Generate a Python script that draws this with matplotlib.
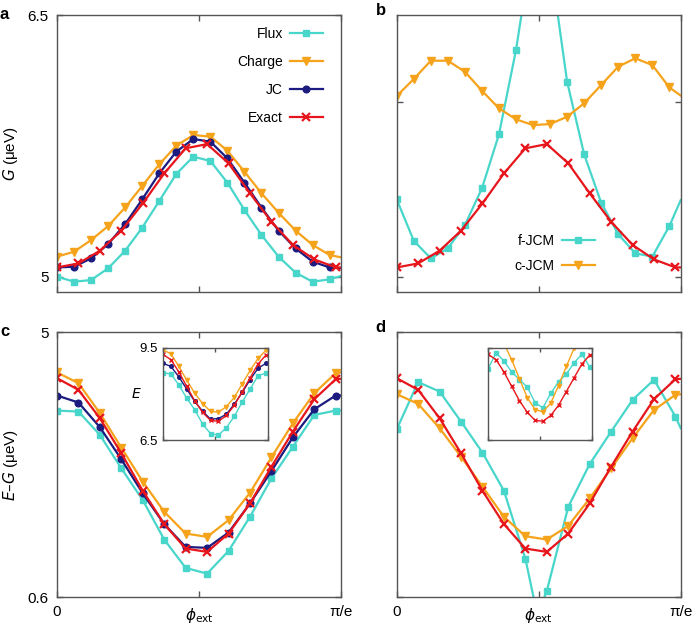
import matplotlib
matplotlib.use("Agg")
import matplotlib.pyplot as plt

plt.rcParams['font.family'] = ['Liberation Sans', 'DejaVu Sans']
plt.rcParams['mathtext.fontset'] = 'dejavusans'

## DATOS (phi_ext normalised to pi/e = 1)

# grid with 17 markers (+ end point, no marker)
phi_a = [0.00, 0.06, 0.12, 0.18, 0.24, 0.30, 0.36, 0.42, 0.48, 0.54,
         0.60, 0.66, 0.72, 0.78, 0.84, 0.90, 0.96, 1.00]
# grid with 14 markers (+ end point, no marker)
phi_b = [0.000, 0.0755, 0.151, 0.2265, 0.302, 0.3775, 0.453, 0.5285,
         0.604, 0.6795, 0.755, 0.8305, 0.906, 0.9815, 1.000]
# f-JCM in panel d has one extra unmarked point at the dip
phi_d_flux = [0.000, 0.0755, 0.151, 0.2265, 0.302, 0.3775, 0.453, 0.495, 0.5285,
              0.604, 0.6795, 0.755, 0.8305, 0.906, 0.9815, 1.000]

# panel a : ground state G
flux_G = [5.000, 4.971, 4.981, 5.048, 5.149, 5.281, 5.434, 5.589, 5.688,
          5.663, 5.539, 5.382, 5.239, 5.115, 5.023, 4.971, 4.985, 5.004]
charge_G = [5.115, 5.143, 5.210, 5.290, 5.397, 5.520, 5.644, 5.751, 5.812,
            5.803, 5.722, 5.602, 5.478, 5.367, 5.264, 5.182, 5.124, 5.111]
jc_G = [5.053, 5.057, 5.105, 5.187, 5.302, 5.443, 5.592, 5.717, 5.789,
        5.774, 5.678, 5.539, 5.396, 5.264, 5.162, 5.086, 5.053, 5.048]
exact_G = [5.053, 5.076, 5.149, 5.264, 5.420, 5.592, 5.736, 5.760,
           5.650, 5.478, 5.315, 5.182, 5.099, 5.053, 5.053]

# panel b
fjcm_G = [5.443, 5.206, 5.105, 5.162, 5.296, 5.506, 5.816, 6.299, 6.930,
          6.815, 6.118, 5.701, 5.424, 5.243, 5.134, 5.115, 5.290, 5.439]
cjcm_G = [6.036, 6.133, 6.238, 6.238, 6.175, 6.066, 5.965, 5.902, 5.869,
          5.875, 5.917, 5.994, 6.099, 6.204, 6.252, 6.213, 6.085, 6.038]

# panel c : E - G
flux_EG = [3.696, 3.679, 3.291, 2.736, 2.209, 1.554, 1.083, 0.988,
           1.366, 1.932, 2.570, 3.097, 3.624, 3.696, 3.696]
charge_EG = [4.329, 4.151, 3.652, 3.080, 2.514, 2.015, 1.654, 1.599,
             1.876, 2.331, 2.919, 3.485, 3.985, 4.318, 4.329]
jc_EG = [3.946, 3.829, 3.419, 2.886, 2.320, 1.810, 1.432, 1.416,
         1.671, 2.154, 2.692, 3.252, 3.718, 3.946, 3.946]
exact_EG = [4.234, 4.040, 3.568, 2.986, 2.364, 1.810, 1.405, 1.349,
            1.654, 2.154, 2.764, 3.347, 3.885, 4.218, 4.223]

# panel d
cjcm_EG = [3.968, 3.807, 3.402, 2.930, 2.431, 1.932, 1.610, 1.554,
           1.782, 2.237, 2.736, 3.236, 3.707, 3.957, 3.968]
fjcm_EG = [3.385, 4.168, 4.012, 3.513, 2.997, 2.364, 1.238, 0.300, 0.700,
           2.098, 2.808, 3.347, 3.874, 4.207, 3.596, 3.402]

# insets : E
flux_E = [8.70, 8.65, 8.30, 7.86, 7.49, 7.02, 6.71, 6.66, 6.90, 7.27, 7.74, 8.16, 8.60, 8.68, 8.70]
charge_E = [9.44, 9.31, 8.90, 8.45, 8.03, 7.69, 7.43, 7.41, 7.59, 7.89, 8.33, 8.77, 9.16, 9.43, 9.44]
jc_E = [9.00, 8.90, 8.56, 8.16, 7.76, 7.44, 7.18, 7.20, 7.34, 7.67, 8.05, 8.47, 8.84, 9.00, 9.00]
exact_E = [9.29, 9.12, 8.72, 8.25, 7.78, 7.40, 7.14, 7.11, 7.30, 7.63, 8.08, 8.53, 8.98, 9.27, 9.28]
cjcm_E = [10.01, 9.97, 9.65, 9.12, 8.49, 7.88, 7.49, 7.42, 7.70, 8.27, 8.90, 9.49, 9.91, 10.02, 10.03]
fjcm_E = [8.83, 9.34, 9.08, 8.72, 8.47, 8.22, 7.72, 7.55, 8.02, 8.40, 8.65, 9.02, 9.30, 8.88, 8.83]

## ESTILOS

c_flux = '#48D6CB'
c_charge = '#F6A31C'
c_jc = '#1B1B80'
c_exact = '#E6161C'
gris = '#555555'

st_flux = dict(color=c_flux, marker='s', ms=4.8, lw=1.6)
st_charge = dict(color=c_charge, marker='v', ms=5.6, lw=1.6)
st_jc = dict(color=c_jc, marker='o', ms=4.8, lw=1.6)
st_exact = dict(color=c_exact, marker='x', ms=5.8, mew=1.6, lw=1.6)

m17 = list(range(17))
m14 = list(range(14))
m14_d = [0, 1, 2, 3, 4, 5, 6, 8, 9, 10, 11, 12, 13, 14]


def marco(ax, yt, ylim, lw=1.0, ln=4):
    ax.set_xlim(0, 1)
    ax.set_ylim(*ylim)
    ax.set_yticks(yt)
    ax.set_xticks([0, 0.5, 1])
    for s in ax.spines.values():
        s.set_color(gris)
        s.set_linewidth(lw)
    ax.tick_params(direction='in', top=True, right=True, length=ln,
                   width=1, color=gris, labelsize=11, pad=6)


fig = plt.figure(figsize=(6.92, 6.26), dpi=100)

W = 0.4104
ax_a = fig.add_axes([0.0824, 0.5335, W, 0.4425])
ax_b = fig.add_axes([0.5733, 0.5335, W, 0.4425])
ax_c = fig.add_axes([0.0824, 0.0463, W, 0.4233])
ax_d = fig.add_axes([0.5733, 0.0463, W, 0.4233])

## PANEL a
ax_a.plot(phi_a, flux_G, markevery=m17, label='Flux', **st_flux)
ax_a.plot(phi_a, charge_G, markevery=m17, label='Charge', **st_charge)
ax_a.plot(phi_a, jc_G, markevery=m17, label='JC', **st_jc)
ax_a.plot(phi_b, exact_G, markevery=m14, label='Exact', **st_exact)
marco(ax_a, [5, 6.5], (4.912, 6.5))
ax_a.set_yticklabels(['5', '6.5'])
ax_a.set_xticklabels(['', '', ''])
ax_a.set_ylabel('$G$ (μeV)', fontsize=11)
ax_a.yaxis.set_label_coords(-0.13, 0.5)
ax_a.legend(loc='upper right', bbox_to_anchor=(0.937, 0.957), frameon=False,
            markerfirst=False, fontsize=10, handlelength=2.4, handletextpad=0.5,
            labelspacing=1.0, borderpad=0, borderaxespad=0)

## PANEL b
ax_b.plot(phi_a, fjcm_G, markevery=m17, label='f-JCM', **st_flux)
ax_b.plot(phi_a, cjcm_G, markevery=m17, label='c-JCM', **st_charge)
ax_b.plot(phi_b, exact_G, markevery=m14, **st_exact)
marco(ax_b, [5, 6], (4.912, 6.5))
ax_b.set_yticklabels(['', ''])
ax_b.set_xticklabels(['', '', ''])
ax_b.legend(loc='upper right', bbox_to_anchor=(0.698, 0.209), frameon=False,
            markerfirst=False, fontsize=10, handlelength=2.4, handletextpad=0.5,
            labelspacing=0.8, borderpad=0, borderaxespad=0)

## PANEL c
ax_c.plot(phi_b, flux_EG, markevery=m14, **st_flux)
ax_c.plot(phi_b, charge_EG, markevery=m14, **st_charge)
ax_c.plot(phi_b, jc_EG, markevery=m14, **st_jc)
ax_c.plot(phi_b, exact_EG, markevery=m14, **st_exact)
marco(ax_c, [0.6, 5], (0.6, 5))
ax_c.set_yticklabels(['0.6', '5'])
ax_c.set_xticklabels(['0', '', 'π/e'])
ax_c.set_ylabel('$E$–$G$ (μeV)', fontsize=11)
ax_c.yaxis.set_label_coords(-0.13, 0.5)
ax_c.text(0.5, -0.035, r'$\phi_{\rm ext}$', transform=ax_c.transAxes,
          ha='center', va='top', fontsize=11)

## PANEL d
ax_d.plot(phi_d_flux, fjcm_EG, markevery=m14_d, **st_flux)
ax_d.plot(phi_b, cjcm_EG, markevery=m14, **st_charge)
ax_d.plot(phi_b, exact_EG, markevery=m14, **st_exact)
marco(ax_d, [0.6, 5], (0.6, 5))
ax_d.set_yticklabels(['', ''])
ax_d.set_xticklabels(['0', '', 'π/e'])
ax_d.text(0.5, -0.035, r'$\phi_{\rm ext}$', transform=ax_d.transAxes,
          ha='center', va='top', fontsize=11)

## INSETS
st_in = dict(lw=1.0)
in_c = fig.add_axes([0.2355, 0.2971, 0.1517, 0.147])
in_c.plot(phi_b, flux_E, color=c_flux, marker='s', ms=2.6, markevery=m14, **st_in)
in_c.plot(phi_b, charge_E, color=c_charge, marker='v', ms=3.0, markevery=m14, **st_in)
in_c.plot(phi_b, jc_E, color=c_jc, marker='o', ms=2.6, markevery=m14, **st_in)
in_c.plot(phi_b, exact_E, color=c_exact, marker='x', ms=3.2, mew=1.0, markevery=m14, **st_in)
marco(in_c, [6.5, 9.5], (6.5, 9.5), ln=3)
in_c.tick_params(labelsize=9.5, pad=4)
in_c.set_yticklabels(['6.5', '9.5'])
in_c.set_xticklabels(['', '', ''])
in_c.text(-0.25, 0.5, '$E$', transform=in_c.transAxes, ha='center',
          va='center', fontsize=10)

in_d = fig.add_axes([0.7056, 0.2971, 0.1494, 0.147])
in_d.plot(phi_b, fjcm_E, color=c_flux, marker='s', ms=2.6, markevery=m14, **st_in)
in_d.plot(phi_b, cjcm_E, color=c_charge, marker='v', ms=3.0, markevery=m14, **st_in)
in_d.plot(phi_b, exact_E, color=c_exact, marker='x', ms=3.2, mew=1.0, markevery=m14, **st_in)
marco(in_d, [6.5, 9.5], (6.5, 9.5), ln=3)
in_d.set_yticklabels(['', ''])
in_d.set_xticklabels(['', '', ''])

## ETIQUETAS DE PANEL
fig.text(0.0, 0.989, 'a', weight='bold', fontsize=12, va='top', ha='left')
fig.text(0.543, 0.995, 'b', weight='bold', fontsize=12, va='top', ha='left')
fig.text(0.0, 0.483, 'c', weight='bold', fontsize=12, va='top', ha='left')
fig.text(0.543, 0.489, 'd', weight='bold', fontsize=12, va='top', ha='left')

fig.savefig("out.png", dpi=100)
